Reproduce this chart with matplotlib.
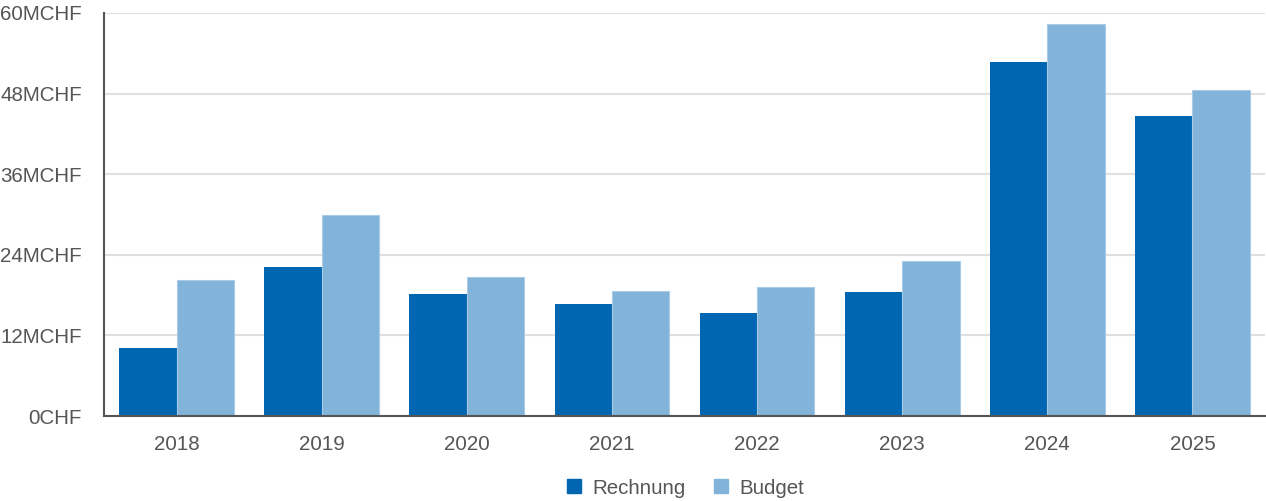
import numpy as np
import matplotlib.pyplot as plt
from matplotlib.lines import Line2D

# ----------------------------------------------- DATA ----------------------------------------------------------------
years = ['2018', '2019', '2020', '2021', '2022', '2023', '2024', '2025']
rechnung = [10.1, 22.2, 18.2, 16.7, 15.4, 18.4, 52.7, 44.7]
budget = [20.3, 29.9, 20.75, 18.6, 19.2, 23.1, 58.3, 48.5]
y_ticks = [0, 12, 24, 36, 48, 60]
y_labels = ['0CHF', '12MCHF', '24MCHF', '36MCHF', '48MCHF', '60MCHF']

DARK = '#0066b1'
LIGHT = '#82b3d9'
TEXT = '#555555'
FS = 14.8

plt.rcParams['font.family'] = ['Liberation Sans', 'DejaVu Sans']

fig = plt.figure(figsize=(12.66, 5.01), dpi=100)
ax = fig.add_axes([104 / 1266, 85 / 501, 1161 / 1266, 403 / 501])

x = np.arange(len(years))
w = 0.395
ax.bar(x - w / 2, rechnung, width=w, color=DARK, zorder=3)
ax.bar(x + w / 2, budget, width=w, color=LIGHT, edgecolor='#a9cbe6', linewidth=0.8, zorder=3)

ax.set_xlim(-0.5, len(years) - 0.5)
ax.set_ylim(0, 60)
ax.set_yticks(y_ticks)
ax.set_yticklabels(y_labels)
ax.set_xticks(x)
ax.set_xticklabels(years)
ax.tick_params(axis='y', length=0, pad=16, labelsize=FS, labelcolor=TEXT)
ax.tick_params(axis='x', length=0, pad=14, labelsize=FS, labelcolor=TEXT)
ax.grid(axis='y', color='#e0e0e0', linewidth=1.5, zorder=0)

for side in ['top', 'right']:
    ax.spines[side].set_visible(False)
for side in ['left', 'bottom']:
    ax.spines[side].set_color('#555555')
    ax.spines[side].set_linewidth(1.5)
    ax.spines[side].set_zorder(4)

# legend centred under the plot area, not the whole figure
handles = [Line2D([], [], marker='s', linestyle='', markersize=10, color=DARK),
           Line2D([], [], marker='s', linestyle='', markersize=10, color=LIGHT)]
fig.legend(handles, ['Rechnung', 'Budget'], loc='lower center', bbox_to_anchor=(685 / 1266, -0.03),
           ncol=2, frameon=False, fontsize=FS, labelcolor=TEXT,
           handlelength=0.8, handletextpad=0.5, columnspacing=1.3)

fig.savefig('out.png', dpi=100)
